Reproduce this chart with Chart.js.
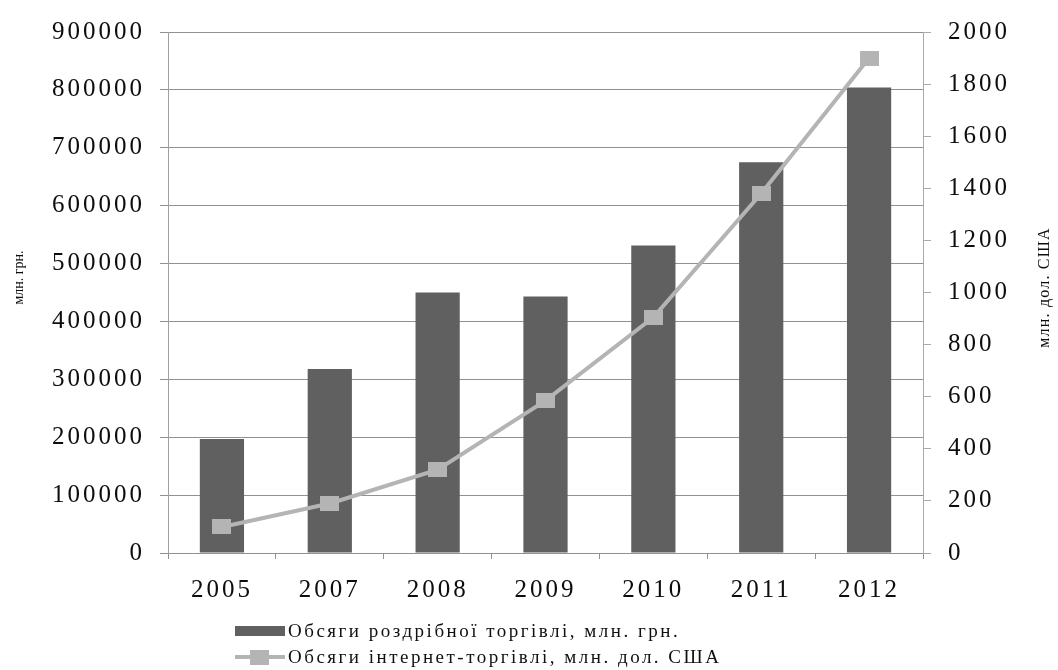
<!DOCTYPE html>
<html>
<head>
<meta charset="utf-8">
<script src="https://cdn.jsdelivr.net/npm/chart.js@4.4.1/dist/chart.umd.min.js"></script>
<style>
  html, body { margin: 0; padding: 0; background: #fff; }
  #wrap { position: relative; width: 1058px; height: 670px; overflow: hidden; }
  #chart { position: absolute; left: 0; top: 0; }
  .leg {
    position: absolute; left: 235px; height: 22px;
    display: flex; align-items: center; white-space: nowrap;
    font-family: "Liberation Serif", "Times New Roman", serif;
    font-size: 19px; letter-spacing: 2.5px; color: #111;
  }
  .sw { position: relative; width: 50px; height: 16px; margin-right: 3px; flex: none; }
  .sw-bar { position: absolute; left: 0; top: 3px; width: 50px; height: 10px; }
  .sw-line { position: absolute; left: 0; top: 6px; width: 50px; height: 4px; }
  .sw-pt { position: absolute; left: 15px; top: 1px; width: 19px; height: 15px; }
</style>
</head>
<body>
<div id="wrap">
  <canvas id="chart" width="1058" height="670"></canvas>
  <div id="legend"></div>
</div>
<script>
// Years on the category axis
const years = ['2005', '2007', '2008', '2009', '2010', '2011', '2012'];
// Retail trade volume, mln UAH (left axis)
const retailVolume = [197000, 318000, 450000, 443000, 531000, 675000, 804000];
// Internet trade volume, mln USD (right axis)
const onlineVolume = [100, 190, 320, 585, 905, 1380, 1900];

const retailLabel = 'Обсяги роздрібної торгівлі, млн. грн.';
const onlineLabel = 'Обсяги інтернет-торгівлі, млн. дол. США';
const leftTitle = 'млн. грн.';
const rightTitle = 'млн. дол. США';

const barColor = '#606060';
const lineColor = '#b4b4b4';
const textColor = '#0d0d0d';
const gridColor = '#919191';
const serif = '"Liberation Serif", "Times New Roman", serif';
const tickFont = { family: serif, size: 25 };

// Slightly wide square marker for the line series
const marker = document.createElement('canvas');
marker.width = 19;
marker.height = 15;
(function () {
  const m = marker.getContext('2d');
  m.fillStyle = lineColor;
  m.fillRect(0, 0, 19, 15);
})();

// Wide-spaced tick lettering
const spacing = {
  id: 'spacing',
  beforeDraw(chart) { chart.ctx.letterSpacing = '3px'; }
};

// Vertical axis titles, both reading bottom-to-top
const axisTitles = {
  id: 'axisTitles',
  afterDraw(chart) {
    const { ctx, chartArea, scales } = chart;
    const midY = (chartArea.top + chartArea.bottom) / 2;
    ctx.save();
    ctx.fillStyle = textColor;
    ctx.textAlign = 'center';
    ctx.textBaseline = 'middle';

    ctx.save();
    ctx.letterSpacing = '0px';
    ctx.font = '14px ' + serif;
    ctx.translate(scales.y.left + 19, midY - 15);
    ctx.rotate(-Math.PI / 2);
    ctx.fillText(leftTitle, 0, 0);
    ctx.restore();

    ctx.save();
    ctx.letterSpacing = '1.2px';
    ctx.font = '16px ' + serif;
    ctx.translate(scales.y1.right - 13, midY - 5);
    ctx.rotate(-Math.PI / 2);
    ctx.fillText(rightTitle, 0, 0);
    ctx.restore();

    ctx.restore();
  }
};

const chart = new Chart(document.getElementById('chart'), {
  type: 'bar',
  data: {
    labels: years,
    datasets: [
      {
        type: 'bar',
        label: retailLabel,
        data: retailVolume,
        yAxisID: 'y',
        backgroundColor: barColor,
        borderWidth: 0,
        barPercentage: 0.41,
        categoryPercentage: 1,
        order: 1
      },
      {
        type: 'line',
        label: onlineLabel,
        data: onlineVolume,
        yAxisID: 'y1',
        borderColor: lineColor,
        borderWidth: 4,
        tension: 0,
        pointStyle: marker,
        pointRadius: 10,
        pointBackgroundColor: lineColor,
        pointBorderWidth: 0,
        order: 0
      }
    ]
  },
  options: {
    responsive: false,
    animation: false,
    devicePixelRatio: 1,
    layout: { padding: { top: 27, left: 0, right: 0, bottom: 0 } },
    plugins: {
      legend: { display: false },
      tooltip: { enabled: false }
    },
    scales: {
      x: {
        grid: { drawOnChartArea: false, offset: true, tickLength: 6, color: gridColor },
        border: { color: gridColor },
        ticks: { font: tickFont, color: textColor, padding: 16, maxRotation: 0, minRotation: 0 },
        afterFit(s) { s.height = 117; }
      },
      y: {
        position: 'left',
        min: 0,
        max: 900000,
        grid: { color: gridColor, tickLength: 8 },
        border: { color: '#a0a0a0' },
        ticks: {
          stepSize: 100000, font: tickFont, color: textColor, padding: 15,
          callback: v => String(v)
        },
        afterFit(s) { s.width = 168; }
      },
      y1: {
        position: 'right',
        min: 0,
        max: 2000,
        grid: { drawOnChartArea: false, tickLength: 8, color: '#aaa' },
        border: { color: '#aaa' },
        ticks: {
          stepSize: 200, font: tickFont, color: textColor, padding: 17,
          callback: v => String(v)
        },
        afterFit(s) { s.width = 135; }
      }
    }
  },
  plugins: [spacing, axisTitles]
});

// Two-row legend under the plot, built from the datasets
const legend = document.getElementById('legend');
chart.data.datasets.forEach((ds, i) => {
  const row = document.createElement('div');
  row.className = 'leg';
  row.style.top = (i === 0 ? 620 : 646) + 'px';
  const sw = document.createElement('div');
  sw.className = 'sw';
  if (ds.type === 'bar') {
    const b = document.createElement('div');
    b.className = 'sw-bar';
    b.style.background = ds.backgroundColor;
    sw.appendChild(b);
  } else {
    const l = document.createElement('div');
    l.className = 'sw-line';
    l.style.background = ds.borderColor;
    const p = document.createElement('div');
    p.className = 'sw-pt';
    p.style.background = ds.pointBackgroundColor;
    sw.appendChild(l);
    sw.appendChild(p);
  }
  const t = document.createElement('span');
  t.textContent = ds.label;
  row.appendChild(sw);
  row.appendChild(t);
  legend.appendChild(row);
});
</script>
</body>
</html>
